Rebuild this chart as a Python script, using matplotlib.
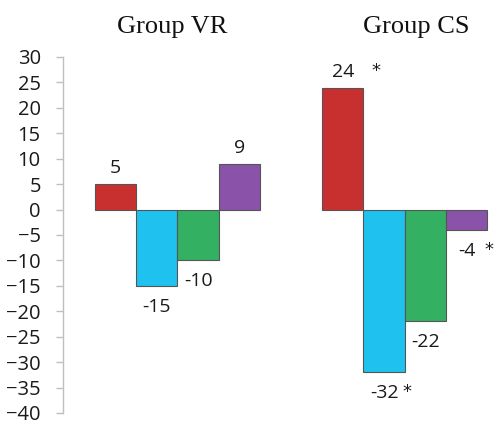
import matplotlib.pyplot as plt

# data
groups = ["Group VR", "Group CS"]
vr_values = [5, -15, -10, 9]
cs_values = [24, -32, -22, -4]
vr_signif = [False, False, False, False]
cs_signif = [True, True, False, True]
bar_colors = ["#C8302F", "#1FC1EE", "#33B062", "#8A52A8"]
yticks = list(range(-40, 31, 5))

W, H, DPI = 494, 422, 100
fig = plt.figure(figsize=(W / DPI, H / DPI), dpi=DPI)
ax = fig.add_axes([63 / W, 1 - 413 / H, 1 - 63 / W, (413 - 57) / H])

# bar positions: 4 bars per group, groups 5.5 bar widths apart
vr_x = [i for i in range(len(vr_values))]
cs_x = [5.5 + i for i in range(len(cs_values))]
all_x = vr_x + cs_x
all_v = vr_values + cs_values
all_sig = vr_signif + cs_signif
all_c = bar_colors + bar_colors

ax.bar(all_x, all_v, width=1.0, color=all_c, edgecolor="#555555", linewidth=0.8, zorder=2)

ax.set_ylim(-40, 30)
ax.set_xlim(-1.27, 9.16)
ax.set_yticks(yticks)
ax.set_xticks([])
for side in ["top", "right", "bottom"]:
    ax.spines[side].set_visible(False)
ax.spines["left"].set_color("#BFBFBF")
ax.spines["left"].set_linewidth(1.0)
ax.tick_params(axis="y", length=5, width=1.0, color="#BFBFBF", pad=11,
               labelsize=14.5, labelcolor="#1A1A1A")
for lbl in ax.get_yticklabels():
    lbl.set_fontfamily("Open Sans")

# value labels and significance stars
star_dx = {4: 33, 5: 23, 7: 22}
for i, (x, v, sig) in enumerate(zip(all_x, all_v, all_sig)):
    dy = 16 if v > 0 else -21
    ax.annotate(str(v), (x, v), xytext=(0, dy), textcoords="offset pixels",
                ha="center", va="center", fontsize=14, color="#1A1A1A",
                family="Open Sans")
    if sig:
        ax.annotate("*", (x, v), xytext=(star_dx[i], dy + 1), textcoords="offset pixels",
                    ha="center", va="center", fontsize=13, color="#1A1A1A",
                    family="DejaVu Sans")

# group titles
fig.text(172 / W, 1 - 27 / H, groups[0], ha="center", va="center",
         fontsize=19, family="Liberation Serif", color="#111111")
fig.text(416 / W, 1 - 27 / H, groups[1], ha="center", va="center",
         fontsize=19, family="Liberation Serif", color="#111111")

fig.savefig("out.png", dpi=DPI)
